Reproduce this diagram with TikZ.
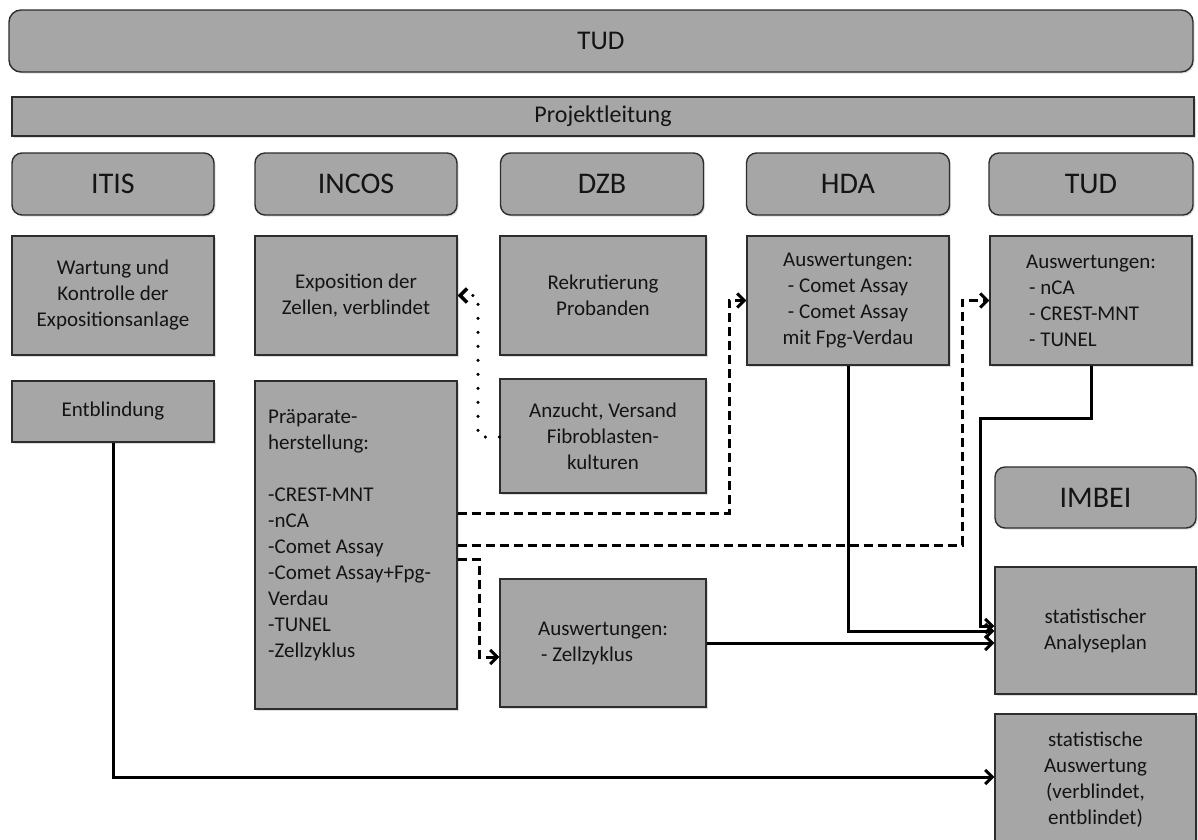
\documentclass[tikz,border=0pt]{standalone}
\usepackage{fontspec}
\setmainfont{Carlito}
\usetikzlibrary{arrows.meta,shadows,calc}
\definecolor{boxfill}{RGB}{166,166,166}
\definecolor{boxline}{RGB}{45,45,45}
\definecolor{txt}{RGB}{20,20,20}
\begin{document}
\begin{tikzpicture}[x=1pt,y=-1pt,
  box/.style={draw=boxline, line width=1.4pt, fill=boxfill, text=txt,
    font=\fontsize{21}{26}\selectfont, align=center, inner sep=0pt,
    drop shadow={shadow xshift=1.5pt, shadow yshift=-1.5pt, opacity=0.25}},
  head/.style={box, rounded corners=10pt, font=\fontsize{30}{36}\selectfont},
  conn/.style={line width=3pt, draw=black, line join=miter},
  arr/.style={-{Straight Barb[length=7pt,width=14pt]}},
  dashc/.style={conn, arr, dash pattern=on 9pt off 5pt},
  dotc/.style={conn, arr, line width=3.5pt, line cap=round, dash pattern=on 0pt off 14pt}
]
\clip (0,0) rectangle (1198,839);
\fill[white] (0,0) rectangle (1198,839);

% top rows
\node[head, rounded corners=12pt, minimum width=1184pt, minimum height=62pt, font=\fontsize{27}{32}\selectfont] (tud) at (601,41) {TUD};
\node[box, minimum width=1182pt, minimum height=39pt, font=\fontsize{24}{28}\selectfont] (proj) at (603,116.5) {Projektleitung};

\node[head, minimum width=202pt, minimum height=62pt] (itis) at (113,184) {ITIS};
\node[head, minimum width=202pt, minimum height=62pt] (incos) at (356,184) {INCOS};
\node[head, minimum width=203pt, minimum height=62pt] (dzb) at (602,184) {DZB};
\node[head, minimum width=203pt, minimum height=62pt] (hda) at (848,184) {HDA};
\node[head, minimum width=204pt, minimum height=62pt] (tudh) at (1091,184) {TUD};

% second row
\node[box, minimum width=202pt, minimum height=119pt] (wartung) at (113,295.5) {Wartung und\\Kontrolle der\\Expositionsanlage};
\node[box, minimum width=202pt, minimum height=119pt] (expo) at (356,295.5) {Exposition der\\Zellen, verblindet};
\node[box, minimum width=206pt, minimum height=119pt] (rekr) at (603,295.5) {Rekrutierung\\Probanden};
\node[box, minimum width=202pt, minimum height=129pt] (hdaA) at (848,300.5) {Auswertungen:\\- Comet Assay\\- Comet Assay\\mit Fpg-Verdau};
\node[box, minimum width=202pt, minimum height=129pt, align=left] (tudA) at (1091,300.5) {Auswertungen:\\\hspace{3pt}- nCA\\\hspace{3pt}- CREST-MNT\\\hspace{3pt}- TUNEL};

% lower boxes
\node[box, minimum width=202pt, minimum height=61pt] (entb) at (113,411.5) {Entblindung};
\node[box, minimum width=202pt, minimum height=328pt] (prep) at (356,545) {};
\node[anchor=north west, text=txt, font=\fontsize{21}{26}\selectfont, align=left, inner sep=0pt] (prepT) at (268,409)
  {Präparate-\\herstellung:\\[26pt]-CREST-MNT\\-nCA\\-Comet Assay\\-Comet Assay+Fpg-\\Verdau\\-TUNEL\\-Zellzyklus};
\node[box, minimum width=206pt, minimum height=114pt] (anz) at (603,436) {Anzucht, Versand\\Fibroblasten-\\kulturen};
\node[box, minimum width=206pt, minimum height=128pt, align=left] (zell) at (603,643) {Auswertungen:\\\hspace{3pt}- Zellzyklus};

\node[head, minimum width=201pt, minimum height=61pt] (imbei) at (1095.5,497.5) {IMBEI};
\node[box, minimum width=201pt, minimum height=127pt] (plan) at (1095.5,630.5) {statistischer\\Analyseplan};
\node[box, minimum width=201pt, minimum height=132pt] (ausw) at (1095.5,780) {statistische\\Auswertung\\(verblindet,\\entblindet)};

% connectors
\coordinate (p1) at (478,437);
\draw[dotc] (anz.west |- p1) -- (p1) |- (expo.east);

\coordinate (d1) at (729,513);
\draw[dashc] (d1 -| prep.east) -- (d1) |- (hdaA.west);
\coordinate (d2) at (962,545);
\draw[dashc] (d2 -| prep.east) -- (d2) |- (tudA.west);
\coordinate (d3) at (479,559);
\coordinate (d3b) at (479,657);
\draw[dashc] (d3 -| prep.east) -- (d3) -- (d3b) -- (d3b -| zell.west);

\coordinate (s1) at (847,631);
\draw[conn, arr] (hdaA.south) -- (hdaA.south |- s1) -- (s1 -| plan.west);
\coordinate (s2) at (980,418);
\coordinate (s2b) at (980,626);
\draw[conn, arr] (tudA.south) |- (s2) -- (s2b) -- (s2b -| plan.west);
\draw[conn, arr] (zell.east) -- (zell.east -| plan.west);
\coordinate (s4) at (113,777);
\draw[conn, arr] (entb.south) -- (s4) -- (s4 -| ausw.west);
\end{tikzpicture}
\end{document}
